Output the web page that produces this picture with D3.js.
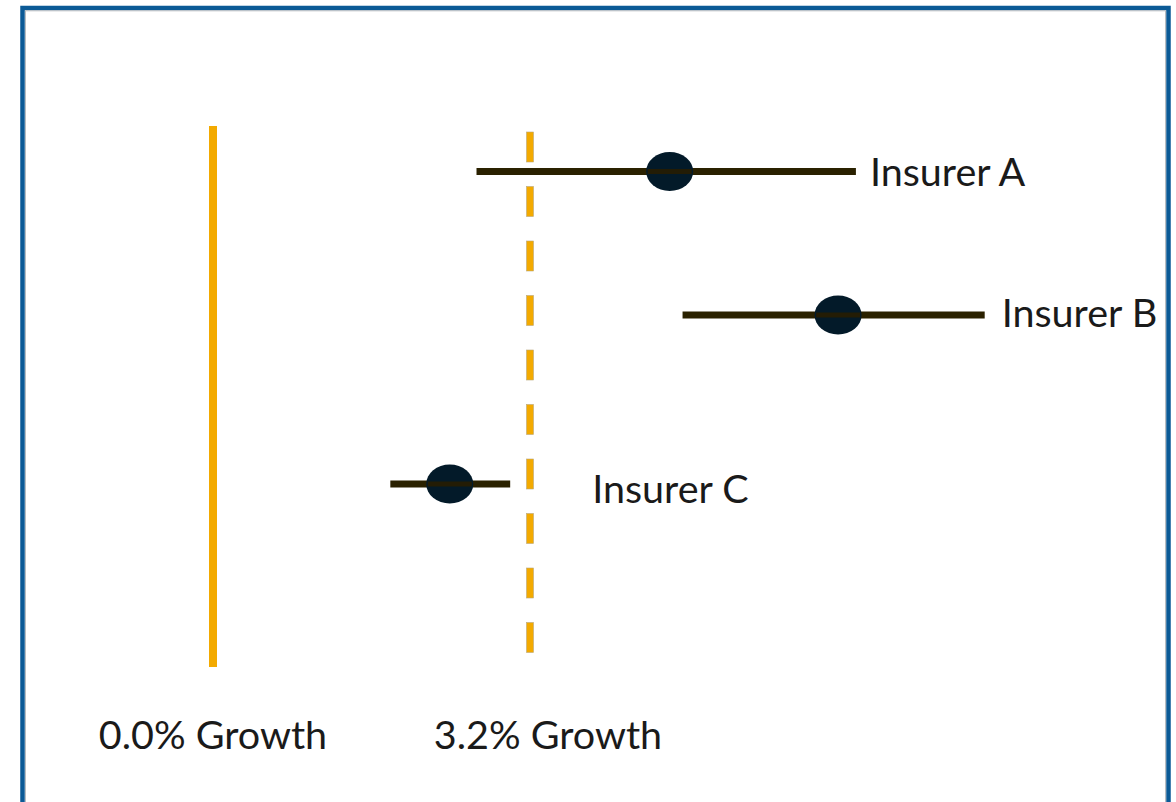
<!DOCTYPE html>
<html>
<head>
<meta charset="utf-8">
<script src="https://cdn.jsdelivr.net/npm/d3@7"></script>
<style>
  html, body { margin: 0; padding: 0; background: #fff; }
  svg { display: block; }
  text { font-family: Lato, "Open Sans", sans-serif; fill: #1a1a1a; }
</style>
</head>
<body>
<svg id="svg" width="1176" height="802"></svg>
<script>
// data (growth, %)
const insurers = ["Insurer A", "Insurer B", "Insurer C"];
const lowValues = [2.66, 4.74, 1.79];
const pointValues = [4.61, 6.31, 2.39];
const highValues = [6.49, 7.79, 3.0];

const refValues = [0.0, 3.2];
const refLabels = ["0.0% Growth", "3.2% Growth"];

// layout
const svg = d3.select("#svg");
const width = 1176, height = 802;
const fontSize = 39.5;

const x = d3.scaleLinear().domain([0, 3.2]).range([213, 530]);
const y = d3.scaleOrdinal().domain(insurers).range([171.5, 315, 484]);
const labelGap = [14, 17, 82];
const labelDy = [14, 12, 19];
const refLabelShift = [0, 18];

// frame
svg.append("rect")
  .attr("x", 22.5).attr("y", 8)
  .attr("width", 1146).attr("height", 820)
  .attr("fill", "none")
  .attr("stroke", "#0b5a96")
  .attr("stroke-width", 4.5);
svg.append("rect")
  .attr("x", 25.5).attr("y", 10.8)
  .attr("width", 1140).attr("height", 820)
  .attr("fill", "none")
  .attr("stroke", "#b8bcc0")
  .attr("stroke-width", 1);

// reference lines
const refTop = [126, 132], refBottom = [667, 653];
refValues.forEach((v, i) => {
  if (i === 0) {
    svg.append("rect")
      .attr("x", x(v) - 4)
      .attr("y", refTop[i])
      .attr("width", 8)
      .attr("height", refBottom[i] - refTop[i])
      .attr("fill", "#f3aa00");
  } else {
    // dashes
    const dash = 30, gap = 24.5;
    const starts = d3.range(refTop[i], refBottom[i], dash + gap);
    svg.append("g").selectAll("rect")
      .data(starts)
      .join("rect")
      .attr("x", x(v) - 3.5)
      .attr("y", d => d)
      .attr("width", 7)
      .attr("height", d => Math.min(dash, refBottom[i] - d))
      .attr("fill", "#f3aa00")
      .attr("stroke", "#b9a77a")
      .attr("stroke-width", 0.6);
  }
});

svg.append("g").selectAll("text")
  .data(refValues)
  .join("text")
  .attr("x", (d, i) => x(d) + refLabelShift[i])
  .attr("y", 749)
  .attr("text-anchor", "middle")
  .attr("font-size", fontSize)
  .text((d, i) => refLabels[i]);

// error bars
const rows = insurers.map((name, i) => ({
  name, low: lowValues[i], point: pointValues[i], high: highValues[i], i
}));

const g = svg.append("g");

g.selectAll("line.bar")
  .data(rows)
  .join("line")
  .attr("class", "bar")
  .attr("x1", d => x(d.low))
  .attr("x2", d => x(d.high))
  .attr("y1", d => y(d.name))
  .attr("y2", d => y(d.name))
  .attr("stroke", "#2a2100")
  .attr("stroke-width", 7);

g.selectAll("ellipse")
  .data(rows)
  .join("ellipse")
  .attr("cx", d => x(d.point))
  .attr("cy", d => y(d.name))
  .attr("rx", 23.5)
  .attr("ry", 19.5)
  .attr("fill", "#031a29");

g.selectAll("line.mid")
  .data(rows)
  .join("line")
  .attr("class", "mid")
  .attr("x1", d => x(d.point) - 22)
  .attr("x2", d => x(d.point) + 22)
  .attr("y1", d => y(d.name))
  .attr("y2", d => y(d.name))
  .attr("stroke", "#231c05")
  .attr("stroke-width", 5);

g.selectAll("text")
  .data(rows)
  .join("text")
  .attr("x", d => x(d.high) + labelGap[d.i])
  .attr("y", d => y(d.name) + labelDy[d.i])
  .attr("font-size", fontSize)
  .text(d => d.name);
</script>
</body>
</html>
